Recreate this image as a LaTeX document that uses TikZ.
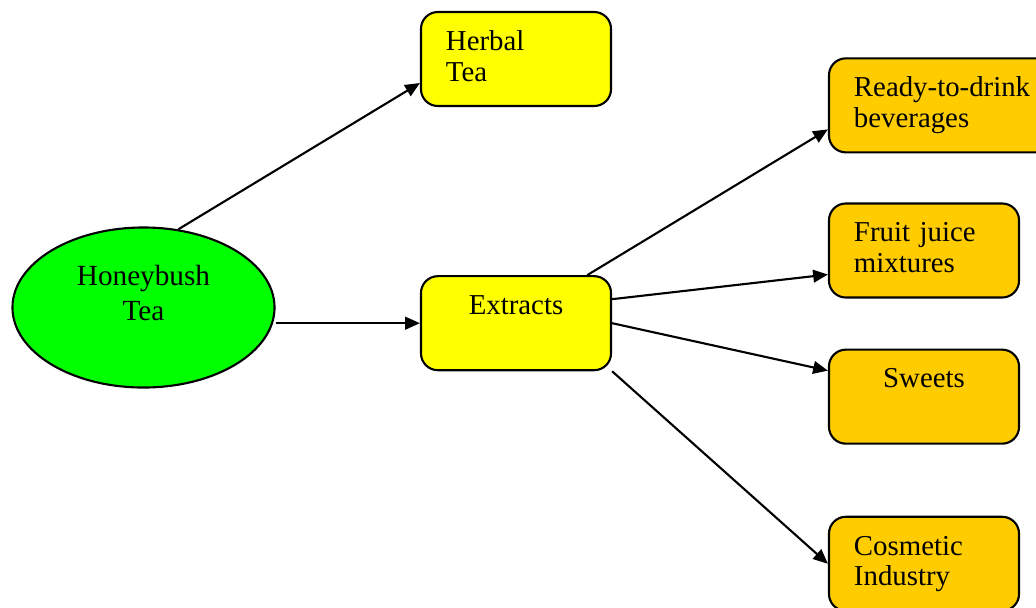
\documentclass[tikz,border=0pt]{standalone}
\usepackage{fontspec}
\setmainfont{Liberation Serif}
\usetikzlibrary{shapes.geometric, arrows.meta, positioning, calc}
\definecolor{boxyellow}{HTML}{FFFF00}
\definecolor{boxorange}{HTML}{FFCC00}
\definecolor{teagreen}{HTML}{00FF00}

\begin{document}
\begin{tikzpicture}[
  x=0.025cm, y=-0.025cm,
  box/.style={rectangle, draw, line width=1.5pt, rounded corners=12pt, minimum width=4.75cm, minimum height=2.35cm, text width=3.5cm, inner xsep=0.625cm, align=left, text height=14.5pt, text depth=27pt, font=\fontsize{20.5}{22}\selectfont},
  tea/.style={ellipse, draw, line width=1.5pt, fill=teagreen, minimum width=6.55cm, minimum height=4cm, text width=3.6cm, inner sep=1pt, align=center, text height=15pt, text depth=45.6pt, font=\fontsize{20.8}{24.2}\selectfont},
  arr/.style={-{Triangle[length=10.5pt, width=9pt]}, line width=1.5pt},
]
\useasboundingbox (0,0) rectangle (1036,607);

\node[tea] (hb) at (143.5,307.5) {Honeybush\\Tea};
\node[box, fill=boxyellow] (herbal) at (516,59) {Herbal\\Tea};
\node[box, fill=boxyellow, align=center, below=4.2cm of herbal] (ex) {Extracts};
\node[box, fill=boxorange] (fj) at (924,250.5) {Fruit juice\\mixtures};
\node[box, fill=boxorange, text width=4.5cm, above=1.225cm of fj.north west, anchor=south west] (rtd) {Ready-to-drink\\beverages};
\node[box, fill=boxorange, align=center, below=1.25cm of fj] (sw) {Sweets};
\node[box, fill=boxorange, below=1.775cm of sw] (cos) {Cosmetic\\Industry};

% Arrows
\draw[arr] (hb.66) -- ($(herbal.west)+(0,24)$);
\draw[arr] (ex.west -| hb.east) -- (ex.west);
\draw[arr] (ex.34) -- ($(rtd.west)+(0,24)$);
\draw[arr] ($(ex.east)+(0,-24)$) -- ($(fj.west)+(0,24)$);
\draw[arr] (ex.east) -- ($(sw.west)+(0,-26)$);
\draw[arr] (ex.south east) -- (cos.west);
\end{tikzpicture}
\end{document}
